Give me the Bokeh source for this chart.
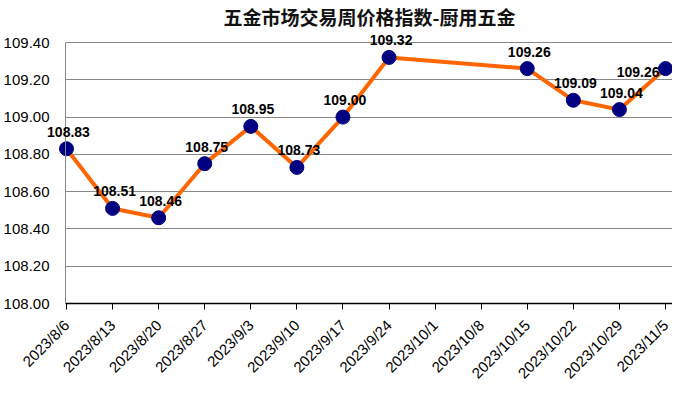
import math
from bokeh.plotting import figure
from bokeh.models import ColumnDataSource, FixedTicker, LabelSet, Label, Range1d
from bokeh.core.properties import value
from bokeh.embed import file_html
from bokeh.resources import INLINE

title_text = "五金市场交易周价格指数-厨用五金"
dates = ["2023/8/6", "2023/8/13", "2023/8/20", "2023/8/27", "2023/9/3", "2023/9/10",
         "2023/9/17", "2023/9/24", "2023/10/1", "2023/10/8", "2023/10/15", "2023/10/22",
         "2023/10/29", "2023/11/5"]
values = [108.83, 108.51, 108.46, 108.75, 108.95, 108.73, 109.00, 109.32,
          None, None, 109.26, 109.09, 109.04, 109.26]
y_ticks = [108.0, 108.2, 108.4, 108.6, 108.8, 109.0, 109.2, 109.4]

xs = [i for i, v in enumerate(values) if v is not None]
ys = [v for v in values if v is not None]
labels = ["%.2f" % v for v in ys]

src_main = ColumnDataSource(dict(x=xs[:-1], y=ys[:-1], t=labels[:-1]))
src_last = ColumnDataSource(dict(x=xs[-1:], y=ys[-1:], t=labels[-1:]))
src = ColumnDataSource(dict(x=xs, y=ys))

# layout (pixels inside the figure)
W, H = 672, 383
x_first_px = 66        # pixel of first category
x_last_px = 665        # pixel of last category
y_top_px = 42          # pixel (from top) of top tick
y_bot_px = 303         # pixel (from top) of bottom tick
px_x = (x_last_px - x_first_px) / (len(dates) - 1)
px_y = (y_bot_px - y_top_px) / (y_ticks[-1] - y_ticks[0])

x_start = -x_first_px / px_x
x_end = x_start + W / px_x
y_end = y_ticks[-1] + y_top_px / px_y
y_start = y_ticks[0] - (H - y_bot_px) / px_y
x0 = -1 / px_x

p = figure(width=W, height=H, frame_width=W, frame_height=H,
           output_backend="svg", toolbar_location=None,
           x_range=Range1d(x_start, x_end), y_range=Range1d(y_start, y_end),
           min_border_left=0, min_border_right=0, min_border_top=0, min_border_bottom=0)
p.background_fill_color = "white"
p.border_fill_color = "white"

p.outline_line_color = None
p.xgrid.grid_line_color = None
p.ygrid.grid_line_color = "#888888"
p.ygrid.grid_line_width = 1
p.ygrid.ticker = FixedTicker(ticks=y_ticks)
p.ygrid.bounds = (y_ticks[0], y_ticks[-1])
p.ygrid.cross_bounds = (x0, x_end)

p.yaxis.fixed_location = x0
p.yaxis.bounds = (y_ticks[0], y_ticks[-1])
p.yaxis.ticker = FixedTicker(ticks=y_ticks)
p.yaxis.major_label_overrides = {t: "%.2f" % t for t in y_ticks}
p.yaxis.axis_line_color = "#888888"
p.yaxis.major_tick_line_color = None
p.yaxis.minor_tick_line_color = None
p.yaxis.major_label_text_font = "Liberation Sans"
p.yaxis.major_label_text_font_size = "15px"
p.yaxis.major_label_text_color = "black"
p.yaxis.major_label_standoff = 10

p.xaxis.fixed_location = y_ticks[0]
p.xaxis.bounds = (x0, x_end)
p.xaxis.ticker = FixedTicker(ticks=list(range(len(dates))))
p.xaxis.major_label_overrides = {i: d for i, d in enumerate(dates)}
p.xaxis.major_label_orientation = math.pi / 4
p.xaxis.axis_line_color = "black"
p.xaxis.axis_line_width = 1.5
p.xaxis.major_tick_line_color = "black"
p.xaxis.major_tick_out = 6
p.xaxis.major_tick_in = 0
p.xaxis.minor_tick_line_color = None
p.xaxis.major_label_text_font = "Liberation Sans"
p.xaxis.major_label_text_font_size = "15px"
p.xaxis.major_label_text_color = "black"
p.xaxis.major_label_standoff = 13

p.line("x", "y", source=src, line_color="#FF6600", line_width=4)
p.scatter("x", "y", source=src, size=14, fill_color="#000080", line_color="#000080")

lab = LabelSet(x="x", y="y", text="t", source=src_main, x_offset=2, y_offset=12,
               text_align="center", text_baseline="bottom",
               text_font=value("Liberation Sans"), text_font_size=value("14px"),
               text_font_style="bold", text_color="black")
lab2 = LabelSet(x="x", y="y", text="t", source=src_last, x_offset=-6, y_offset=-3,
                text_align="right", text_baseline="middle",
                text_font=value("Liberation Sans"), text_font_size=value("14px"),
                text_font_style="bold", text_color="black")
p.add_layout(lab)
p.add_layout(lab2)

title = Label(x=x_start + 369 / px_x, y=y_end - 16 / px_y, text=title_text,
              text_align="center", text_baseline="middle",
              text_font="Noto Sans CJK SC", text_font_size="19px",
              text_font_style="bold", text_color="#111111")
p.add_layout(title)

open("out.html", "w").write(file_html(p, INLINE))
